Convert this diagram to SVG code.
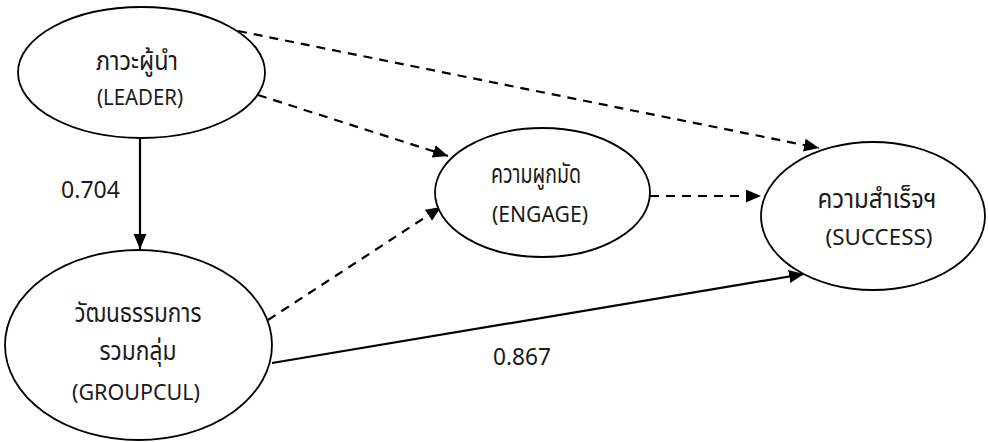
<svg xmlns="http://www.w3.org/2000/svg" width="988" height="442" viewBox="0 0 988 442">
<style>
.node ellipse{fill:#fff;stroke:#000;stroke-width:1.8}
text{font-family:"Noto Sans Thai","Noto Sans","Open Sans","DejaVu Sans",sans-serif;font-size:22px;fill:#1a1a1a;text-anchor:middle}
.th{font-size:26px}
.lbl{text-anchor:start;font-size:23px}
.c{fill:none;stroke:#000;stroke-width:2.2}
.d{stroke-dasharray:9,7}
</style>
<defs>
<marker id="ah" markerUnits="userSpaceOnUse" markerWidth="16" markerHeight="14" refX="15" refY="6.5" orient="auto">
<path d="M0,0 L15,6.5 L0,13 z" fill="#000"/>
</marker>
</defs>
<g id="connectors">
<line class="c" x1="140" y1="138" x2="140" y2="249" marker-end="url(#ah)"/>
<line class="c d" x1="238" y1="31" x2="819" y2="148" marker-end="url(#ah)"/>
<line class="c d" x1="258" y1="95" x2="448" y2="156" marker-end="url(#ah)"/>
<line class="c d" x1="268" y1="320" x2="441" y2="207" marker-end="url(#ah)"/>
<line class="c d" x1="650" y1="196" x2="761" y2="196" marker-end="url(#ah)"/>
<line class="c" x1="272" y1="363" x2="804" y2="274" marker-end="url(#ah)"/>
</g>
<g id="leader" class="node">
<ellipse cx="141.5" cy="72.5" rx="123.5" ry="65.5"/>
<text class="th" x="137" y="70" textLength="82" lengthAdjust="spacingAndGlyphs">ภาวะผู้นำ</text>
<text x="140" y="105" textLength="86" lengthAdjust="spacingAndGlyphs">(LEADER)</text>
</g>
<g id="engage" class="node">
<ellipse cx="542.5" cy="192.5" rx="107.5" ry="64.5"/>
<text class="th" x="536" y="183" textLength="90" lengthAdjust="spacingAndGlyphs">ความผูกมัด</text>
<text x="540" y="222" textLength="96" lengthAdjust="spacingAndGlyphs">(ENGAGE)</text>
</g>
<g id="success" class="node">
<ellipse cx="873" cy="216" rx="112" ry="74"/>
<text class="th" x="877" y="208" textLength="119" lengthAdjust="spacingAndGlyphs">ความสำเร็จฯ</text>
<text x="879" y="245" textLength="107" lengthAdjust="spacingAndGlyphs">(SUCCESS)</text>
</g>
<g id="groupcul" class="node">
<ellipse cx="138.5" cy="345" rx="133.5" ry="95"/>
<text class="th" x="138" y="322" textLength="127" lengthAdjust="spacingAndGlyphs">วัฒนธรรมการ</text>
<text class="th" x="138" y="360" textLength="77" lengthAdjust="spacingAndGlyphs">รวมกลุ่ม</text>
<text x="136" y="400" textLength="128" lengthAdjust="spacingAndGlyphs">(GROUPCUL)</text>
</g>
<g id="labels">
<text class="lbl" x="61" y="198" textLength="59" lengthAdjust="spacingAndGlyphs">0.704</text>
<text class="lbl" x="493" y="365" textLength="58" lengthAdjust="spacingAndGlyphs">0.867</text>
</g>
</svg>
